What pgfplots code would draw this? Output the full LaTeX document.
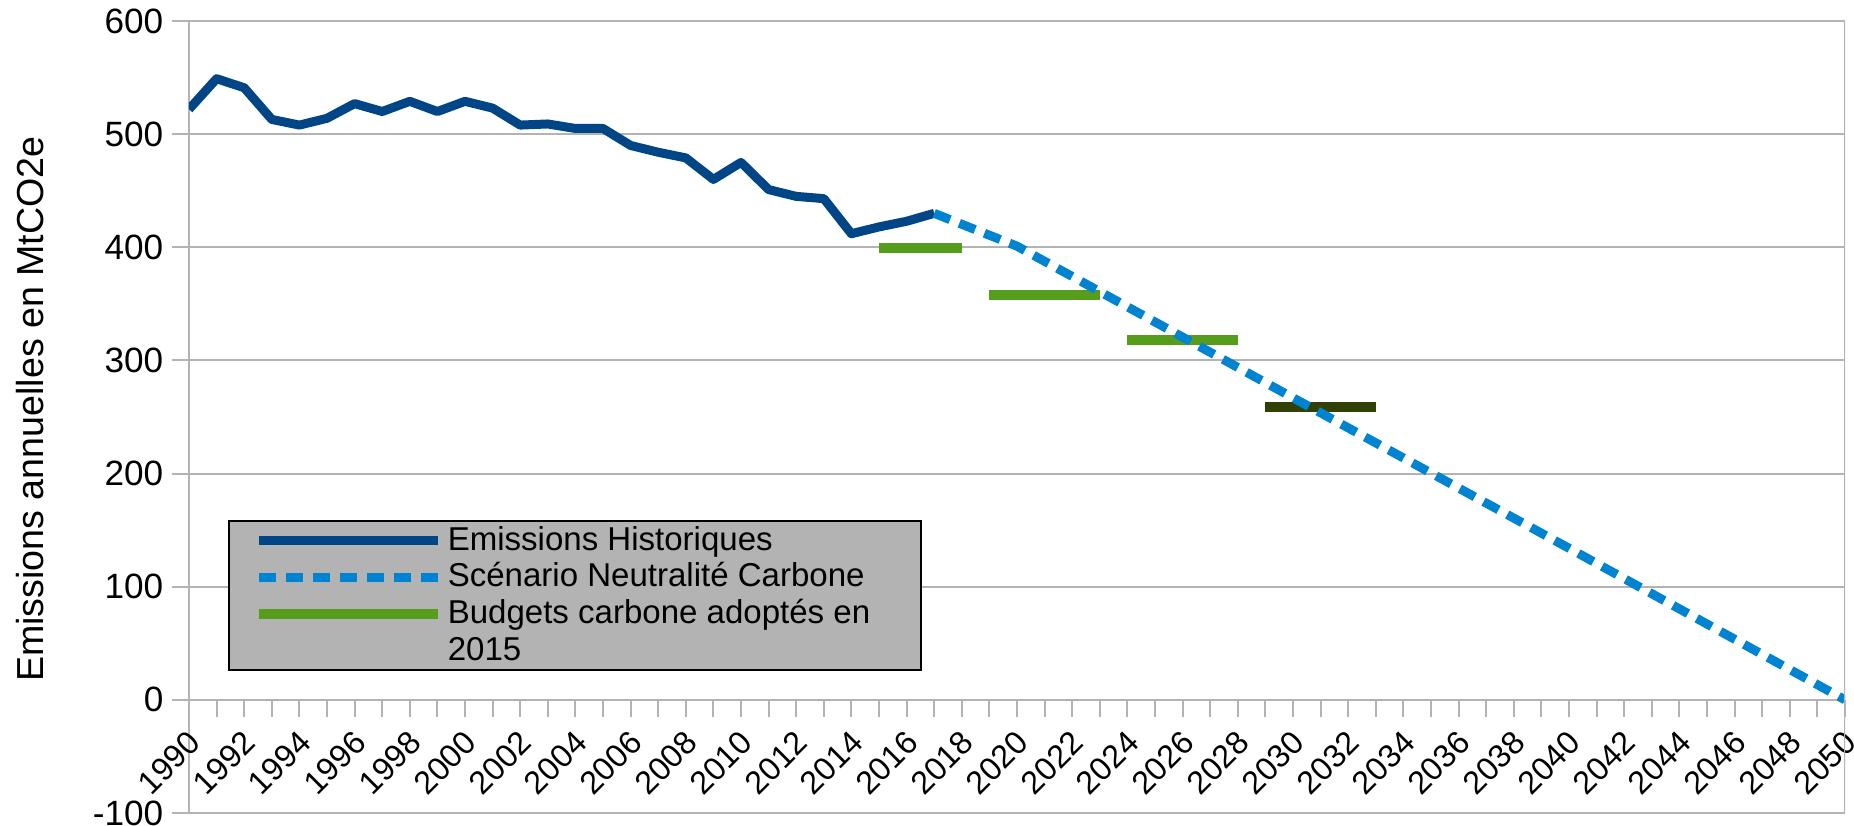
\documentclass[border=0pt]{standalone}
\usepackage{fontspec}
\setmainfont{Liberation Sans}
\usepackage{pgfplots}
\pgfplotsset{compat=1.18}
\definecolor{histblue}{HTML}{004586}
\definecolor{scenblue}{HTML}{0084D1}
\definecolor{budgreen}{HTML}{579D1C}
\definecolor{darkbud}{HTML}{314004}
\definecolor{gridgray}{HTML}{B3B3B3}
\begin{document}
\begin{tikzpicture}
\useasboundingbox (-1.89,-0.13) rectangle (16.65,8.13);
\begin{axis}[
  at={(0,0)}, anchor=south west,
  scale only axis, width=16.56cm, height=7.92cm,
  xmin=1990, xmax=2050, ymin=-100, ymax=600,
  axis x line=middle, axis y line=left,
  hide obscured x ticks=false,
  every inner x axis line/.append style={-},
  every outer y axis line/.append style={-},
  axis line style={gridgray, line width=0.6pt},
  xtick={1990,1992,...,2050},
  minor xtick={1991,1993,...,2049},
  ytick={-100,0,...,600},
  yticklabels={-100,0,100,200,300,400,500,600},
  /pgf/number format/1000 sep={},
  /pgf/number format/assume math mode=true,
  tick align=outside,
  major tick length=0.17cm, minor tick length=0.17cm,
  tick style={gridgray, line width=0.6pt},
  ymajorgrids, grid style={gridgray, line width=0.6pt},
  yticklabel style={font=\fontsize{10}{12}\selectfont, inner sep=0pt, xshift=-0.08cm},
  xticklabel style={font=\fontsize{9.2}{11}\selectfont, inner sep=0pt, xshift=0.06cm, yshift=-0.20cm, rotate=45, anchor=east},
  ylabel={Emissions annuelles en MtCO2e},
  ylabel style={font=\fontsize{10.7}{12}\selectfont, at={(axis description cs:-0.096,0.51)}, anchor=center},
  unbounded coords=jump,
  legend style={at={(axis description cs:0.0235,0.370)}, anchor=north west,
    fill=gridgray, draw=black, line width=0.5pt,
    font=\fontsize{9.4}{10.4}\selectfont,
    inner xsep=0.25cm, inner ysep=0.4pt, row sep=0pt,
    nodes={inner xsep=0.05cm, inner ysep=0pt, text height=8pt, text depth=2.4pt},
    cells={anchor=west}},
  legend image code/.code={\draw[#1] (0cm,0cm) -- (1.79cm,0cm);},
]
\addplot[histblue, line width=0.09cm, line join=round] coordinates {
  (1990,522) (1991,549) (1992,541) (1993,513) (1994,508) (1995,514)
  (1996,527) (1997,520) (1998,529) (1999,520) (2000,529) (2001,523)
  (2002,508) (2003,509) (2004,505) (2005,505) (2006,490) (2007,484)
  (2008,479) (2009,460) (2010,475) (2011,451) (2012,445) (2013,443)
  (2014,412) (2015,418) (2016,423) (2017,430)};
\addlegendentry{\makebox[4.43cm][l]{Emissions Historiques}}
\addlegendimage{scenblue, line width=0.09cm, dash pattern=on 0.17cm off 0.10cm}
\addlegendentry{Scénario Neutralité Carbone}
\addplot[budgreen, line width=0.1cm] coordinates {
  (2015,399) (2018,399) (2018.5,nan)
  (2019,358) (2023,358) (2023.5,nan)
  (2024,318) (2028,318)};
\addlegendentry{Budgets carbone adoptés en}
\addlegendimage{empty legend}
\addlegendentry{2015}
\addplot[darkbud, line width=0.1cm, forget plot] coordinates {(2029,259) (2033,259)};
\addplot[scenblue, line width=0.09cm, dash pattern=on 0.17cm off 0.10cm, forget plot] coordinates {
  (2017,430) (2020,401) (2030,267) (2040,134) (2050,0)};
\draw[gridgray, line width=0.6pt] (axis cs:2050,-100) -- (axis cs:2050,600);
\end{axis}
\end{tikzpicture}
\end{document}
